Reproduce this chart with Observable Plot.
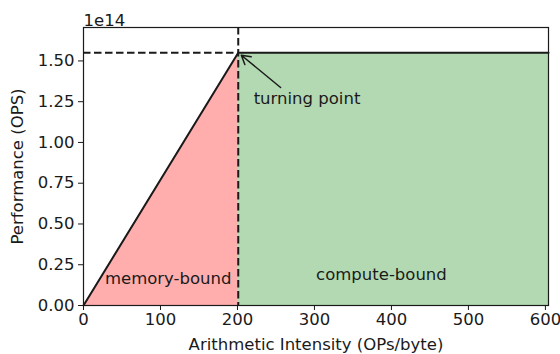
<!DOCTYPE html>
<html>
<head>
<meta charset="utf-8">
<script src="https://cdn.jsdelivr.net/npm/d3@7"></script>
<script src="https://cdn.jsdelivr.net/npm/@observablehq/plot@0.6"></script>
<style>
  html, body { margin: 0; padding: 0; background: #fff; }
  #chart { position: relative; width: 560px; height: 354px; }
</style>
</head>
<body>
<div id="chart"></div>
<script>
// ---- data ----
const peakPerf = 1.55e14;          // OPS
const ridgeX = 201;                // OPs/byte (turning point)
const xMax = 604;
const yMax = peakPerf * 1.1;
const rooflineX = [0, ridgeX, xMax];
const rooflineY = [0, peakPerf, peakPerf];
const memoryX = [0, ridgeX];
const memoryY = [0, peakPerf];
const computeX = [ridgeX, xMax];
const computeY = [peakPerf, peakPerf];
const xTicks = [0, 100, 200, 300, 400, 500, 600];
const yTicks = [0, 0.25e14, 0.5e14, 0.75e14, 1.0e14, 1.25e14, 1.5e14];
const regionLabels = ["memory-bound", "compute-bound"];
const regionLabelX = [110, 387];
const regionLabelY = [0.165e14, 0.19e14];
const annotText = "turning point";
const annotTextX = 221, annotTextY = 1.27e14;
const arrowFromX = 256, arrowFromY = 1.337e14;
const arrowToX = 205, arrowToY = 1.535e14;

const roof = rooflineX.map((x, i) => ({x, y: rooflineY[i]}));
const mem = memoryX.map((x, i) => ({x, y: memoryY[i]}));
const comp = computeX.map((x, i) => ({x, y: computeY[i]}));
const regions = regionLabels.map((t, i) => ({t, x: regionLabelX[i], y: regionLabelY[i]}));

const dash = "7.5,3.5";
const ink = "#1a1a1a";
const fs = 16.5;

const plot = Plot.plot({
  width: 560,
  height: 354,
  marginLeft: 83,
  marginRight: 12,
  marginTop: 27,
  marginBottom: 49,
  style: {fontFamily: "DejaVu Sans, sans-serif", fontSize: fs + "px", color: ink, background: "#fff"},
  x: {domain: [0, xMax], ticks: xTicks, tickFormat: d => String(d), label: null},
  y: {domain: [0, yMax], ticks: yTicks, tickFormat: d => (d / 1e14).toFixed(2), label: null},
  marks: [
    Plot.areaY(mem, {x: "x", y: "y", fill: "#ff0000", fillOpacity: 0.32}),
    Plot.areaY(comp, {x: "x", y: "y", fill: "#008000", fillOpacity: 0.3}),
    Plot.ruleY([peakPerf], {x1: 0, x2: ridgeX, stroke: ink, strokeWidth: 2, strokeDasharray: dash}),
    Plot.ruleX([ridgeX], {stroke: ink, strokeWidth: 2, strokeDasharray: dash}),
    Plot.line(roof, {x: "x", y: "y", stroke: ink, strokeWidth: 2}),
    Plot.arrow([0], {x1: arrowFromX, y1: arrowFromY, x2: arrowToX, y2: arrowToY, stroke: ink, strokeWidth: 1.5, headLength: 10, bend: 0}),
    Plot.text([annotText], {x: annotTextX, y: annotTextY, text: d => d, textAnchor: "start", fill: ink, fontSize: fs}),
    Plot.text(regions, {x: "x", y: "y", text: "t", fill: ink, fontSize: fs}),
    Plot.frame({stroke: ink, strokeWidth: 1.2}),
    Plot.axisX({ticks: xTicks, tickFormat: d => String(d), tickSize: 5, tickPadding: 3, fontSize: fs, label: "Arithmetic Intensity (OPs/byte)", labelAnchor: "center", labelArrow: "none", labelOffset: 44}),
    Plot.axisY({ticks: yTicks, tickFormat: d => (d / 1e14).toFixed(2), tickSize: 5, tickPadding: 4, fontSize: fs, label: "Performance (OPS)", labelAnchor: "center", labelArrow: "none", labelOffset: 72}),
    Plot.text(["1e14"], {frameAnchor: "top-left", dy: -13, text: d => d, textAnchor: "start", fill: ink, fontSize: fs})
  ]
});
document.getElementById("chart").appendChild(plot);
</script>
</body>
</html>
